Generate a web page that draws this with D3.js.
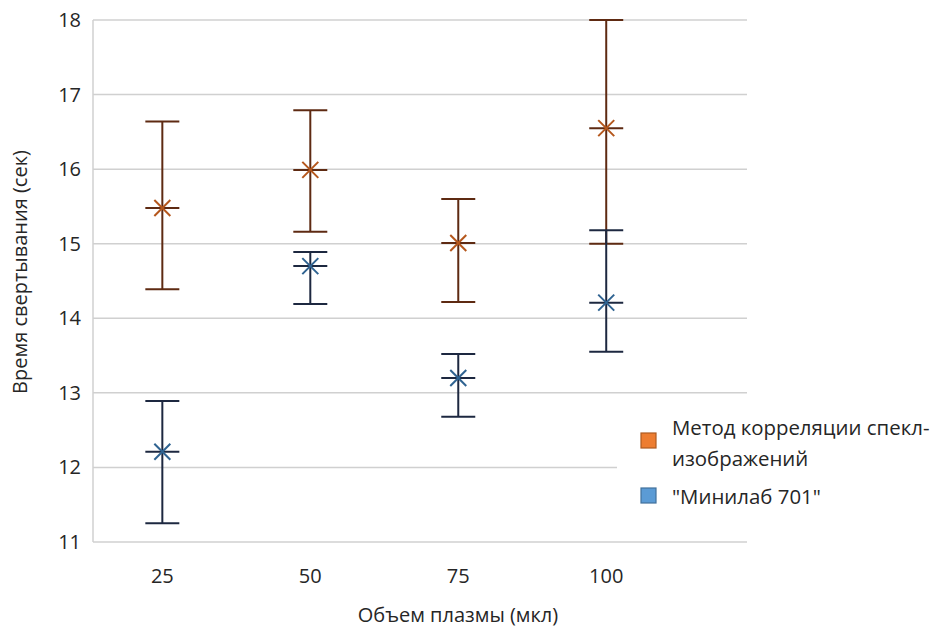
<!DOCTYPE html>
<html>
<head>
<meta charset="utf-8">
<script src="https://cdn.jsdelivr.net/npm/d3@7"></script>
<style>
  body { margin: 0; background: #fff; }
  text { font-family: "Open Sans", "Noto Sans", sans-serif; fill: #262626; }
</style>
</head>
<body>
<div id="chart"></div>
<script>
// plasma volume categories
const volumes = ["25", "50", "75", "100"];
const yTicks = [11, 12, 13, 14, 15, 16, 17, 18];

// speckle correlation method
const speckleMean = [15.48, 15.99, 15.01, 16.55];
const speckleHigh = [16.64, 16.79, 15.60, 18.00];
const speckleLow  = [14.39, 15.16, 14.22, 15.00];

// "Minilab 701"
const minilabMean = [12.21, 14.70, 13.20, 14.21];
const minilabHigh = [12.89, 14.89, 13.52, 15.18];
const minilabLow  = [11.25, 14.19, 12.68, 13.55];

const seriesNames = ["Метод корреляции спекл-изображений", "\"Минилаб 701\""];

const width = 935, height = 635;
const margin = { top: 20, right: 188, bottom: 93, left: 93 };

const svg = d3.select("#chart").append("svg")
    .attr("width", width)
    .attr("height", height);

const x = d3.scalePoint()
    .domain(volumes)
    .range([margin.left, width - margin.right])
    .padding(0.71)
    .align(0.33);

const y = d3.scaleLinear()
    .domain([11, 18])
    .range([height - margin.bottom, margin.top]);

// gridlines
svg.append("g")
    .selectAll("line")
    .data(yTicks)
    .join("line")
      .attr("x1", margin.left)
      .attr("x2", width - margin.right)
      .attr("y1", d => y(d))
      .attr("y2", d => y(d))
      .attr("stroke", "#d0d0d0")
      .attr("stroke-width", 1.5);

// vertical axis line
svg.append("line")
    .attr("x1", margin.left).attr("x2", margin.left)
    .attr("y1", y(18)).attr("y2", y(11))
    .attr("stroke", "#d0d0d0")
    .attr("stroke-width", 1.5);

// y tick labels
svg.append("g")
    .selectAll("text")
    .data(yTicks)
    .join("text")
      .attr("x", margin.left - 12)
      .attr("y", d => y(d))
      .attr("dy", "0.35em")
      .attr("text-anchor", "end")
      .style("font-size", "20px")
      .text(d => d);

// x tick labels
svg.append("g")
    .selectAll("text")
    .data(volumes)
    .join("text")
      .attr("x", d => x(d))
      .attr("y", height - margin.bottom + 34)
      .attr("dy", "0.35em")
      .attr("text-anchor", "middle")
      .style("font-size", "20px")
      .text(d => d);

// axis titles
svg.append("text")
    .attr("x", 458)
    .attr("y", 622)
    .attr("text-anchor", "middle")
    .style("font-size", "20px")
    .text("Объем плазмы (мкл)");

svg.append("text")
    .attr("transform", "translate(27,272) rotate(-90)")
    .attr("text-anchor", "middle")
    .style("font-size", "20px")
    .text("Время свертывания (сек)");

// build the series table from the arrays
const series = [
    { name: seriesNames[0], line: "#5e2a12", marker: "#b5571c", fill: "#ed7d31", border: "#ae5a21",
      points: volumes.map((v, i) => ({ v, mean: speckleMean[i], high: speckleHigh[i], low: speckleLow[i] })) },
    { name: seriesNames[1], line: "#1d2840", marker: "#2f6391", fill: "#5b9bd5", border: "#41719c",
      points: volumes.map((v, i) => ({ v, mean: minilabMean[i], high: minilabHigh[i], low: minilabLow[i] })) }
];

const capHalf = 17;
const starSize = 8;

series.forEach(s => {
    const g = svg.append("g");
    const pts = g.selectAll("g")
        .data(s.points)
        .join("g");

    pts.append("line")
        .attr("x1", d => x(d.v)).attr("x2", d => x(d.v))
        .attr("y1", d => y(d.high)).attr("y2", d => y(d.low))
        .attr("stroke", s.line).attr("stroke-width", 2);

    pts.selectAll(".cap")
        .data(d => [{ v: d.v, val: d.high }, { v: d.v, val: d.low }])
        .join("line")
          .attr("class", "cap")
          .attr("x1", d => x(d.v) - capHalf).attr("x2", d => x(d.v) + capHalf)
          .attr("y1", d => y(d.val)).attr("y2", d => y(d.val))
          .attr("stroke", s.line).attr("stroke-width", 2);

    // star marker
    pts.append("line")
        .attr("x1", d => x(d.v) - capHalf).attr("x2", d => x(d.v) + capHalf)
        .attr("y1", d => y(d.mean)).attr("y2", d => y(d.mean))
        .attr("stroke", s.line).attr("stroke-width", 2);
    pts.append("path")
        .attr("d", d => {
            const cx = x(d.v), cy = y(d.mean);
            return `M${cx - starSize},${cy - starSize}L${cx + starSize},${cy + starSize}` +
                   `M${cx - starSize},${cy + starSize}L${cx + starSize},${cy - starSize}`;
        })
        .attr("stroke", s.marker).attr("stroke-width", 2);
});

// legend
const legend = svg.append("g").attr("transform", "translate(617,410)");
legend.append("rect")
    .attr("width", 316).attr("height", 115)
    .attr("fill", "#fff");

const legendRows = [
    { s: series[0], swatchY: 31, textY: 18, lines: ["Метод корреляции спекл-", "изображений"] },
    { s: series[1], swatchY: 86, textY: 87, lines: ["\"Минилаб 701\""] }
];

legendRows.forEach(r => {
    legend.append("rect")
        .attr("x", 24).attr("y", r.swatchY - 8)
        .attr("width", 15).attr("height", 15)
        .attr("fill", r.s.fill)
        .attr("stroke", r.s.border)
        .attr("stroke-width", 1.2);
    const t = legend.append("text")
        .attr("x", 55)
        .attr("y", r.textY)
        .style("font-size", "20.4px");
    r.lines.forEach((l, i) => {
        t.append("tspan")
            .attr("x", 55)
            .attr("dy", i === 0 ? "0.35em" : 31)
            .text(l);
    });
});
</script>
</body>
</html>
